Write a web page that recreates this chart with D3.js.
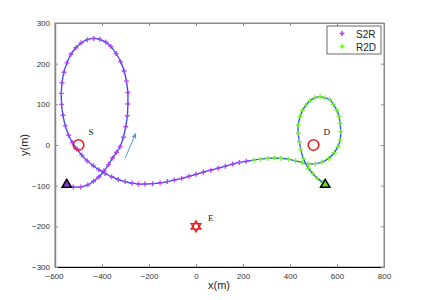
<!DOCTYPE html>
<html>
<head>
<meta charset="utf-8">
<script src="https://cdn.jsdelivr.net/npm/d3@7"></script>
<style>
  body { margin: 0; background: #fff; }
  text { font-family: "Liberation Sans", Arial, sans-serif; }
</style>
</head>
<body>
<div class="chart"></div>
<script>
// S2R leg (purple markers)
var s2rX = [-550, -522, -490, -460, -436, -413, -392, -372, -355, -338, -323, -309, -299, -292, -290, -290, -296, -306, -321, -340, -362, -384, -410, -435, -462, -489, -511, -532, -549, -562, -570, -573, -572, -566, -556, -542, -526, -506, -486, -463, -437, -413, -387, -359, -331, -302, -272, -245, -217, -184, -153, -122, -92, -61, -30, 0, 31, 63, 94, 125, 156, 184, 214];
var s2rY = [-100, -103, -103, -98, -89, -78, -64, -48, -32, -18, -4, 19, 45, 72, 101, 129, 157, 182, 205, 225, 242, 253, 260, 262, 259, 251, 239, 223, 202, 179, 153, 127, 100, 73, 47, 24, 6, -10, -25, -39, -51, -61, -70, -78, -85, -90, -94, -96, -96, -95, -93, -90, -86, -82, -77, -72, -67, -62, -57, -52, -47, -43, -40];
// R2D leg (green markers)
var r2dX = [246, 275, 305, 334, 362, 394, 423, 451, 480, 508, 536, 564, 588, 604, 613, 616, 613, 609, 599, 584, 570, 549, 528, 506, 485, 468, 454, 443, 435, 435, 440, 446, 457, 478, 497, 516, 539, 550];
var r2dY = [-37, -35, -33, -32, -33, -35, -39, -43, -46, -46, -42, -33, -19, -4, 12, 33, 53, 70, 86, 100, 111, 116, 119, 116, 109, 98, 86, 70, 49, 29, 8, -12, -33, -57, -70, -82, -92, -100];

var xTicks = [-600, -400, -200, 0, 200, 400, 600, 800];
var yTicks = [-300, -200, -100, 0, 100, 200, 300];

var W = 424, H = 300;
var svg = d3.select(".chart").append("svg")
    .attr("width", W)
    .attr("height", H);

var x = d3.scaleLinear().domain([-600, 800]).range([55, 384]);
var y = d3.scaleLinear().domain([-300, 300]).range([267, 23]);

// frame
svg.append("rect")
    .attr("x", 55).attr("y", 23)
    .attr("width", 329).attr("height", 244)
    .attr("fill", "#fff")
    .attr("stroke", "#888")
    .attr("stroke-width", 1);

// ticks pointing inward, labels outside
svg.append("g")
    .attr("transform", "translate(0,267)")
    .call(d3.axisBottom(x).tickValues(xTicks).tickSizeInner(-3).tickSizeOuter(0).tickPadding(6))
    .call(function (g) {
        g.select(".domain").attr("stroke", "#000");
        g.selectAll("line").attr("stroke", "#888");
        g.selectAll("text").attr("font-size", 8).attr("fill", "#333");
    });
svg.append("g")
    .attr("transform", "translate(0,23)")
    .call(d3.axisTop(x).tickValues(xTicks).tickSizeInner(-3).tickSizeOuter(0).tickFormat(""))
    .call(function (g) {
        g.select(".domain").attr("stroke", "#888");
        g.selectAll("line").attr("stroke", "#888");
    });
svg.append("g")
    .attr("transform", "translate(55,0)")
    .call(d3.axisLeft(y).tickValues(yTicks).tickSizeInner(-3).tickSizeOuter(0).tickPadding(5)
        .tickFormat(function (d) { return d < 0 ? "\u2212" + (-d) : d; }))
    .call(function (g) {
        g.select(".domain").attr("stroke", "#888").attr("stroke-width", 1.5);
        g.selectAll("line").attr("stroke", "#888");
        g.selectAll("text").attr("font-size", 8).attr("fill", "#333");
    });
svg.append("g")
    .attr("transform", "translate(384,0)")
    .call(d3.axisRight(y).tickValues(yTicks).tickSizeInner(-3).tickSizeOuter(0).tickFormat(""))
    .call(function (g) {
        g.select(".domain").attr("stroke", "#888");
        g.selectAll("line").attr("stroke", "#888");
    });
svg.selectAll(".tick text").filter(function (d) { return d === -600; }).attr("dx", -1);

svg.append("text").attr("x", 219).attr("y", 289)
    .attr("text-anchor", "middle").attr("font-size", 11).attr("fill", "#222")
    .text("x(m)");
svg.append("text")
    .attr("transform", "translate(28,145) rotate(-90)")
    .attr("text-anchor", "middle").attr("font-size", 11).attr("fill", "#222")
    .text("y(m)");

// whole trajectory
var allX = s2rX.concat(r2dX), allY = s2rY.concat(r2dY);
var pts = allX.map(function (d, i) { return [d, allY[i]]; });
var line = d3.line()
    .x(function (d) { return x(d[0]); })
    .y(function (d) { return y(d[1]); })
    .curve(d3.curveCatmullRom);
svg.append("path").datum(pts)
    .attr("d", line)
    .attr("fill", "none")
    .attr("stroke", "#3048f5")
    .attr("stroke-width", 1.3);

function plus(g, cx, cy, c) {
    g.append("path")
        .attr("d", "M" + (cx - 2.5) + "," + cy + "h5M" + cx + "," + (cy - 2.5) + "v5")
        .attr("stroke", c).attr("stroke-width", 1.4).attr("fill", "none");
}
var mk = svg.append("g").attr("opacity", 0.9);
s2rX.forEach(function (d, i) { plus(mk, x(d), y(s2rY[i]), "#b03cf5"); });
r2dX.forEach(function (d, i) { plus(mk, x(d), y(r2dY[i]), "#6cf51e"); });

// blue arrow
var arrowFrom = [-302, -33], arrowTo = [-255, 30];
var ax0 = x(arrowFrom[0]), ay0 = y(arrowFrom[1]), ax1 = x(arrowTo[0]), ay1 = y(arrowTo[1]);
var ang = Math.atan2(ay1 - ay0, ax1 - ax0);
svg.append("line").attr("x1", ax0).attr("y1", ay0)
    .attr("x2", ax1 - 3 * Math.cos(ang)).attr("y2", ay1 - 3 * Math.sin(ang))
    .attr("stroke", "#4f94ee").attr("stroke-width", 1);
svg.append("path")
    .attr("d", "M0,0L-6,-2.6L-4.5,0L-6,2.6Z")
    .attr("transform", "translate(" + ax1 + "," + ay1 + ") rotate(" + ang * 180 / Math.PI + ")")
    .attr("fill", "#4f94ee");

// S, D circles and E star
var nodeX = [-500, 500], nodeY = [0, 0], nodeName = ["S", "D"];
nodeX.forEach(function (d, i) {
    svg.append("circle").attr("cx", x(d)).attr("cy", y(nodeY[i])).attr("r", 5.3)
        .attr("fill", "none").attr("stroke", "#f21a1a").attr("stroke-width", 1.6);
    svg.append("text").attr("x", x(d) + 10).attr("y", y(nodeY[i]) - 10)
        .style("font-family", "'Liberation Serif', serif").attr("font-size", 9).attr("fill", "#111")
        .text(nodeName[i]);
});
var eve = [0, -200];
var hexPath = function (r) {
    var p = [];
    for (var k = 0; k < 2; k++) {
        var s = [];
        for (var j = 0; j < 3; j++) {
            var a = -Math.PI / 2 + k * Math.PI / 3 + j * 2 * Math.PI / 3;
            s.push([r * Math.cos(a), r * Math.sin(a)]);
        }
        p.push("M" + s.map(function (q) { return q.join(","); }).join("L") + "Z");
    }
    return p.join("");
};
svg.append("path").attr("d", hexPath(5.5))
    .attr("transform", "translate(" + x(eve[0]) + "," + y(eve[1]) + ")")
    .attr("fill", "#fff").attr("stroke", "#f21a1a").attr("stroke-width", 1.4);
svg.append("text").attr("x", x(eve[0]) + 12).attr("y", y(eve[1]) - 5)
    .style("font-family", "'Liberation Serif', serif").attr("font-size", 9).attr("fill", "#111")
    .text("E");

// start / end triangles
var triX = [-550, 550], triY = [-100, -100], triFill = ["#8a3ad8", "#6cd81e"];
var tri = d3.symbol().type(d3.symbolTriangle).size(38);
triX.forEach(function (d, i) {
    svg.append("path").attr("d", tri)
        .attr("transform", "translate(" + x(d) + "," + (y(triY[i]) - 1) + ")")
        .attr("fill", triFill[i]).attr("stroke", "#000").attr("stroke-width", 1.5);
});

// legend
var leg = svg.append("g");
leg.append("rect").attr("x", 327).attr("y", 26).attr("width", 54).attr("height", 28)
    .attr("fill", "#fff").attr("stroke", "#444").attr("stroke-width", 0.8);
var legNames = ["S2R", "R2D"], legColors = ["#b03cf5", "#6cf51e"];
legNames.forEach(function (n, i) {
    plus(leg, 342, 33.5 + i * 13, legColors[i]);
    leg.append("text").attr("x", 356).attr("y", 37.5 + i * 13)
        .attr("font-size", 10).attr("fill", "#222").text(n);
});
</script>
</body>
</html>
